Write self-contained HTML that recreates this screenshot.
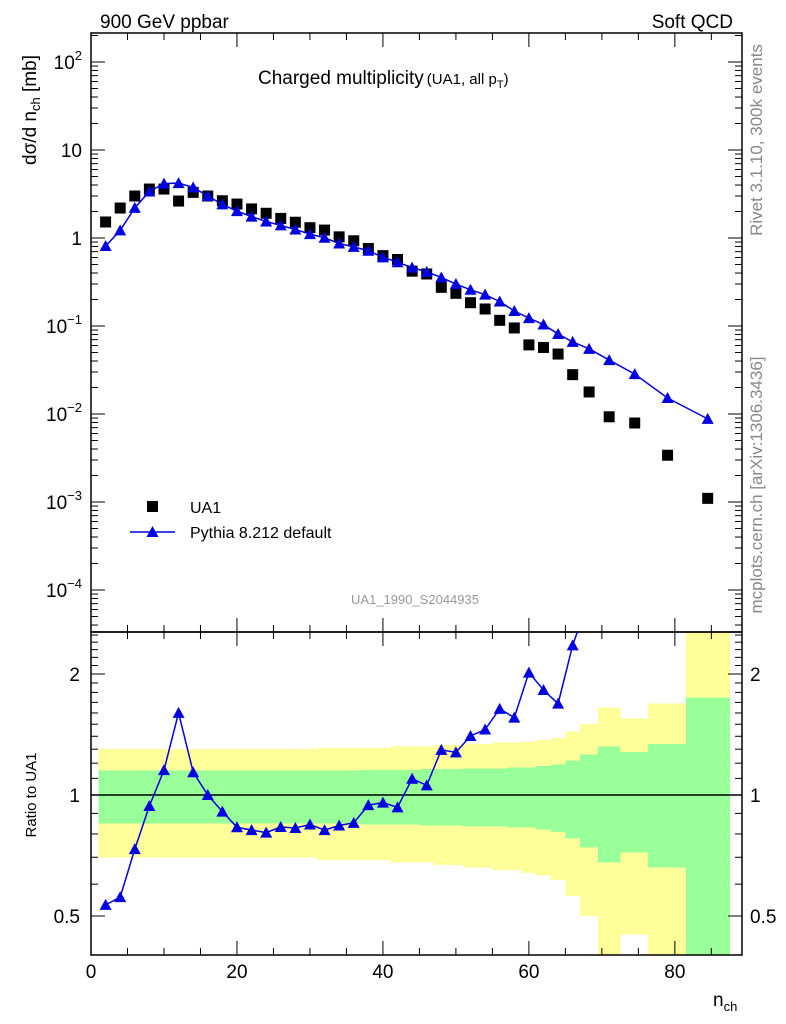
<!DOCTYPE html>
<html><head><meta charset="utf-8"><style>
body{margin:0;background:#fff;}
svg{display:block;font-family:"Liberation Sans",sans-serif;}
</style></head><body>
<svg id="chart" width="786" height="1024" xmlns="http://www.w3.org/2000/svg">
<g id="bands" shape-rendering="crispEdges"></g>
<g id="grid"></g>
<g id="marks"></g>
<text x="100" y="28" font-size="19">900 GeV ppbar</text>
<text x="733" y="28" font-size="19" text-anchor="end">Soft QCD</text>
<text x="258" y="84" font-size="19">Charged multiplicity<tspan font-size="15" dx="3">(UA1, all p</tspan><tspan font-size="11" dy="4">T</tspan><tspan font-size="15" dy="-4">)</tspan></text>
<text transform="translate(36,110) rotate(-90)" font-size="19" text-anchor="middle">dσ/d n<tspan font-size="13" dy="4">ch</tspan><tspan dy="-4"> [mb]</tspan></text>
<text transform="translate(762,140) rotate(-90)" font-size="17" fill="#888" text-anchor="middle">Rivet 3.1.10,  300k events</text>
<text transform="translate(762,485) rotate(-90)" font-size="17" fill="#888" text-anchor="middle">mcplots.cern.ch [arXiv:1306.3436]</text>
<text x="415" y="604" font-size="13" fill="#999" text-anchor="middle">UA1_1990_S2044935</text>
<g>
<rect x="147" y="501" width="11" height="11" fill="#000"/>
<text x="190" y="513" font-size="16">UA1</text>
<line x1="130" y1="532" x2="175" y2="532" stroke="#0000e0" stroke-width="1.5"/>
<polygon points="152.5,526 146.5,537 158.5,537" fill="#0000e0"/>
<text x="190" y="538" font-size="16">Pythia 8.212 default</text>
</g>
<text transform="translate(36,795) rotate(-90)" font-size="15" text-anchor="middle">Ratio to UA1</text>
<text x="713" y="1006" font-size="19">n<tspan font-size="13" dy="5">ch</tspan></text>
</svg>
<script>
const nch=[2,4,6,8,10,12,14,16,18,20,22,24,26,28,30,32,34,36,38,40,42,44,46,48,50,52,54,56,58,60,62,64,66,68.25,71,74.5,79,84.5];
const binEdges=[1,3,5,7,9,11,13,15,17,19,21,23,25,27,29,31,33,35,37,39,41,43,45,47,49,51,53,55,57,59,61,63,65,67,69.5,72.5,76.3,81.5,87.5];
const ua1=[1.52,2.19,3.0,3.6,3.6,2.63,3.3,3.0,2.65,2.43,2.14,1.91,1.67,1.51,1.31,1.23,1.03,0.93,0.76,0.63,0.57,0.42,0.39,0.275,0.235,0.184,0.156,0.116,0.095,0.061,0.057,0.048,0.028,0.0178,0.0093,0.0079,0.0034,0.0011];
const pythia=[0.81,1.22,2.2,3.38,4.15,4.21,3.76,3.0,2.41,2.02,1.75,1.54,1.39,1.25,1.106,1.006,0.865,0.793,0.717,0.603,0.531,0.461,0.412,0.356,0.30,0.258,0.227,0.19,0.148,0.123,0.104,0.081,0.066,0.055,0.041,0.0284,0.0152,0.0088];
const errStat=[0.15,0.15,0.15,0.15,0.15,0.15,0.15,0.15,0.15,0.15,0.15,0.15,0.15,0.15,0.15,0.15,0.15,0.15,0.155,0.155,0.155,0.155,0.16,0.16,0.16,0.165,0.165,0.165,0.17,0.17,0.18,0.19,0.22,0.26,0.32,0.28,0.34,0.75];
const errTot=[0.30,0.30,0.30,0.30,0.30,0.30,0.30,0.30,0.30,0.30,0.30,0.30,0.30,0.30,0.30,0.31,0.31,0.31,0.31,0.31,0.32,0.32,0.32,0.33,0.33,0.34,0.34,0.35,0.35,0.36,0.37,0.385,0.44,0.5,0.65,0.55,0.69,2.0];
const mainTicks=[2,1,0,-1,-2,-3,-4];
const ratioTicks=[0.5,1,2];
const xTicks=[0,20,40,60,80];

const NS="http://www.w3.org/2000/svg";
const L=91,R=742,T=33,MB=632,RB=955;
const X=n=>L+(n-0)*(R-L)/89.2;
const Y=v=>238-88*Math.log10(v);
const YR=r=>Math.min(Math.max(795-121*Math.log2(r),MB),RB);
const YRu=r=>795-121*Math.log2(r);
function mk(tag,at,parent){const e=document.createElementNS(NS,tag);for(const k in at)e.setAttribute(k,at[k]);parent.appendChild(e);return e;}
const svg=document.getElementById('chart');
const bands=document.getElementById('bands'),grid=document.getElementById('grid'),marks=document.getElementById('marks');

for(let i=0;i<nch.length;i++){
  const x0=X(binEdges[i]),x1=X(binEdges[i+1]);
  const ty=YR(1+errTot[i]),by=errTot[i]>=1?RB:YR(1-errTot[i]);
  const y=mk('rect',{x:x0,y:ty,width:x1-x0+0.5,height:by-ty,fill:'#ffff99'},bands);
  
  
}
for(let i=0;i<nch.length;i++){
  const x0=X(binEdges[i]),x1=X(binEdges[i+1]);
  const gy=YR(1+errStat[i]),gb=errStat[i]>=1?RB:YR(1-errStat[i]);
  const g=mk('rect',{x:x0,y:gy,width:x1-x0+0.5,height:gb-gy,fill:'#99ff99'},bands);
  
  
}
const f1=mk('rect',{x:L,y:T,width:R-L,height:MB-T,fill:'none',stroke:'#000','stroke-width':1.5},grid);


const f2=mk('rect',{x:L,y:MB,width:R-L,height:RB-MB,fill:'none',stroke:'#000','stroke-width':1.5},grid);


const one=mk('line',{x1:L,x2:R,y1:795,y2:795,stroke:'#000','stroke-width':1.5},grid);


for(let d=-5;d<=2;d++){for(let m=1;m<10;m++){const v=m*Math.pow(10,d);const y=Y(v);if(y<T||y>MB)continue;const len=m==1?14:7;
 mk('line',{x1:L,x2:L+len,y1:y,y2:y,stroke:'#000'},grid);mk('line',{x1:R-len,x2:R,y1:y,y2:y,stroke:'#000'},grid);}}
mainTicks.forEach(p=>{const y=Y(Math.pow(10,p));const t=mk('text',{x:82,y:y+7,'font-size':19,'text-anchor':'end'},grid);
 
 
 if(p==0)t.textContent='1';else if(p==1)t.textContent='10';else{t.textContent='10';const s=mk('tspan',{dy:-9,'font-size':13},t);s.textContent=String(p).replace('-','−');}});
const rminor=[0.4,0.6,0.7,0.8,0.9,1.1,1.2,1.3,1.4,1.5,1.6,1.7,1.8,1.9,2.1,2.2,2.3,2.4,2.5];
rminor.forEach(r=>{const y=YRu(r);if(y<MB||y>RB)return;mk('line',{x1:L,x2:L+7,y1:y,y2:y,stroke:'#000'},grid);mk('line',{x1:R-7,x2:R,y1:y,y2:y,stroke:'#000'},grid);});
ratioTicks.forEach(r=>{const y=YRu(r);mk('line',{x1:L,x2:L+14,y1:y,y2:y,stroke:'#000'},grid);mk('line',{x1:R-14,x2:R,y1:y,y2:y,stroke:'#000'},grid);
 const a=mk('text',{x:80,y:y+7,'font-size':19,'text-anchor':'end'},grid);a.textContent=String(r);
 
 
 const b=mk('text',{x:750,y:y+7,'font-size':19},grid);b.textContent=String(r);
 
 });
for(let n=0;n<=85;n+=5){const x=X(n);const len=n%20==0?14:7;
 mk('line',{x1:x,x2:x,y1:RB,y2:RB-len,stroke:'#000'},grid);
 mk('line',{x1:x,x2:x,y1:MB,y2:MB-len,stroke:'#000'},grid);
 mk('line',{x1:x,x2:x,y1:MB,y2:MB+len,stroke:'#000'},grid);
 mk('line',{x1:x,x2:x,y1:T,y2:T+len,stroke:'#000'},grid);}
xTicks.forEach(n=>{const t=mk('text',{x:X(n),y:978,'font-size':19,'text-anchor':'middle'},grid);t.textContent=String(n);
 
 });

const cp=mk('clipPath',{id:'cm'},svg);mk('rect',{x:L,y:T,width:R-L,height:MB-T},cp);
const cr=mk('clipPath',{id:'cr'},svg);mk('rect',{x:L,y:MB,width:R-L,height:RB-MB},cr);
const gm=mk('g',{'clip-path':'url(#cm)'},marks);
const gr=mk('g',{'clip-path':'url(#cr)'},marks);
ua1.forEach((v,i)=>{const r=mk('rect',{x:X(nch[i])-5.5,y:Y(v)-5.5,width:11,height:11,fill:'#000'},gm);
 
 });
const pl=mk('polyline',{points:pythia.map((v,i)=>X(nch[i])+','+Y(v)).join(' '),fill:'none',stroke:'#0000e0','stroke-width':1.5},gm);


const tri=(x,y,g)=>mk('polygon',{points:`${x},${y-6} ${x-6},${y+5} ${x+6},${y+5}`,fill:'#0000e0'},g);
pythia.forEach((v,i)=>{const t=tri(X(nch[i]),Y(v),gm);
 
 });
const ratio=pythia.map((v,i)=>v/ua1[i]);
const rl=mk('polyline',{points:ratio.map((r,i)=>X(nch[i])+','+YRu(r)).join(' '),fill:'none',stroke:'#0000e0','stroke-width':1.5},gr);


ratio.forEach((r,i)=>{const t=tri(X(nch[i]),YRu(r),gr);
 
 });
</script>
</body></html>
